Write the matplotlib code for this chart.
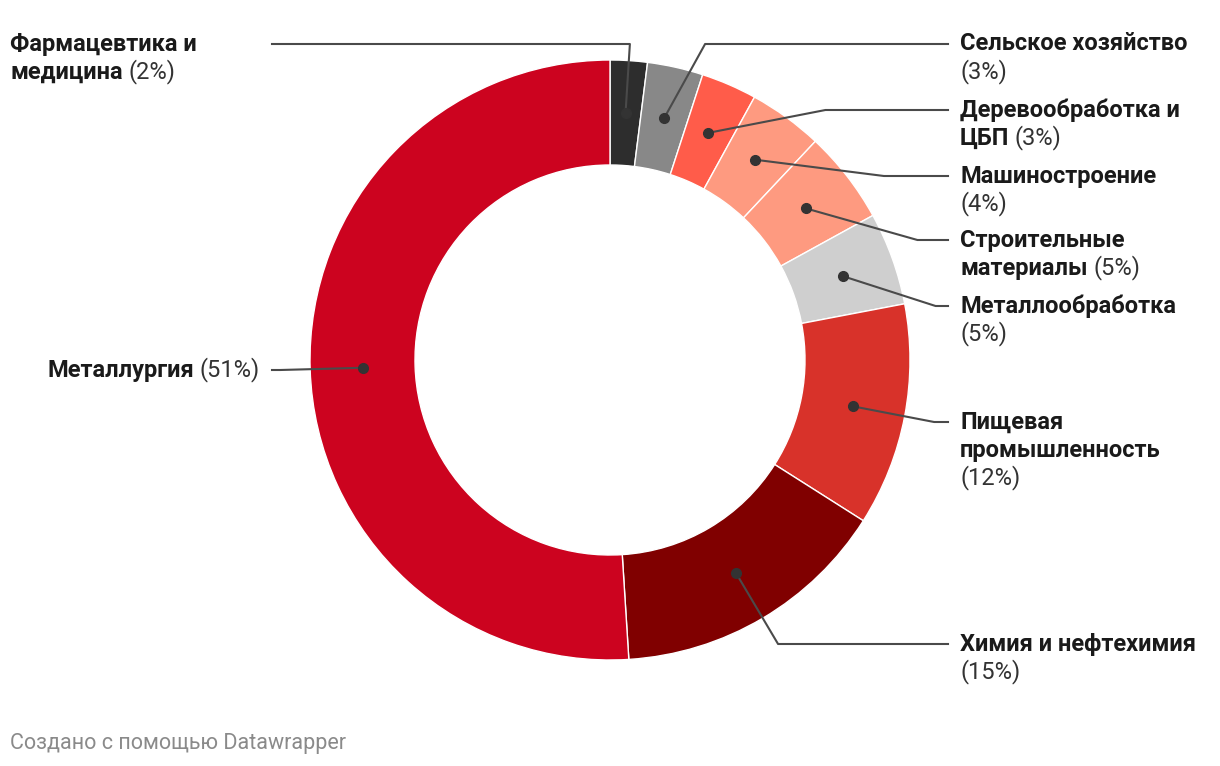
import numpy as np
from matplotlib import pyplot as plt

# Data (clockwise from 12 o'clock)
categories = ['Фармацевтика и медицина', 'Сельское хозяйство', 'Деревообработка и ЦБП',
              'Машиностроение', 'Строительные материалы', 'Металлообработка',
              'Пищевая промышленность', 'Химия и нефтехимия', 'Металлургия']
shares = [2, 3, 3, 4, 5, 5, 12, 15, 51]
colors = ['#2d2d2d', '#888888', '#ff5c4a', '#fe9a80', '#fe9a80', '#cfcfcf',
          '#d8322a', '#800000', '#cc031f']

# label layout: wrapped name (trailing '\n' = percentage on its own line), side, line y (px)
wrapped = ['Фармацевтика и\nмедицина', 'Сельское хозяйство\n', 'Деревообработка и\nЦБП',
           'Машиностроение\n', 'Строительные\nматериалы', 'Металлообработка\n',
           'Пищевая\nпромышленность\n', 'Химия и нефтехимия\n', 'Металлургия']
sides = ['L', 'R', 'R', 'R', 'R', 'R', 'R', 'R', 'L']
label_y = [44, 44, 110, 176, 240, 306, 422, 644, 370]

W, H = 1220, 766
cx, cy = 610, H - 360
r_out, r_in = 300, 195
r_mid = (r_out + r_in) / 2
r_elbow = 330
line_h = 28
FONT = 'Roboto'
FS = 17

fig = plt.figure(figsize=(W / 100, H / 100), dpi=100)
ax = fig.add_axes([0, 0, 1, 1])

ax.pie(shares, colors=colors, center=(cx, cy), radius=r_out, startangle=90,
       counterclock=False, frame=True,
       wedgeprops=dict(width=r_out - r_in, edgecolor='white', linewidth=1))
ax.set_xlim(0, W)
ax.set_ylim(0, H)
ax.axis('off')

cum = np.cumsum([0] + shares[:-1])
for i, name in enumerate(categories):
    t = np.deg2rad((cum[i] + shares[i] / 2) / sum(shares) * 360)
    dx, dy = r_mid * np.sin(t), r_mid * np.cos(t)
    px, py = cx + dx, cy + dy
    ly = H - label_y[i]
    side = 1 if sides[i] == 'R' else -1
    if np.sign(dx) == side:
        ex = cx + side * np.sqrt(r_elbow ** 2 - (ly - cy) ** 2)
    else:
        ex = cx + dx / dy * (ly - cy)
    end_x = 948 if side == 1 else 272
    ax.plot([px, ex, end_x], [py, ly, ly], color='#4a4a4a', lw=1.5,
            solid_joinstyle='round', zorder=3)
    ax.plot(px, py, 'o', color='#333333', ms=7, zorder=4)

    pct = '(%d%%)' % shares[i]
    lines = wrapped[i].split('\n')
    if side == 1 or i == 0:
        x0 = 960 if side == 1 else 10
        for k, ln in enumerate(lines):
            y = ly - k * line_h
            last = k == len(lines) - 1
            if ln:
                t_b = ax.text(x0, y, ln, fontsize=FS, fontweight='bold', family=FONT,
                              color='#1a1a1a', va='center', ha='left')
                if last:
                    ax.annotate(pct, xy=(1, 0), xycoords=t_b, xytext=(4, 0),
                                textcoords='offset points', fontsize=FS, family=FONT,
                                color='#333333', va='bottom', ha='left')
            elif last:
                ax.text(x0, y, pct, fontsize=FS, family=FONT, color='#333333',
                        va='center', ha='left')
    else:
        t_p = ax.text(260, ly, pct, fontsize=FS, family=FONT, color='#333333',
                      va='center', ha='right')
        ax.annotate(lines[0], xy=(0, 0), xycoords=t_p, xytext=(-4, 0),
                    textcoords='offset points', fontsize=FS, fontweight='bold',
                    family=FONT, color='#1a1a1a', va='bottom', ha='right')

ax.text(10, H - 743, 'Создано с помощью Datawrapper', fontsize=15.5, family=FONT,
        color='#8a8a8a', va='center', ha='left')

fig.savefig('out.png', dpi=100)
